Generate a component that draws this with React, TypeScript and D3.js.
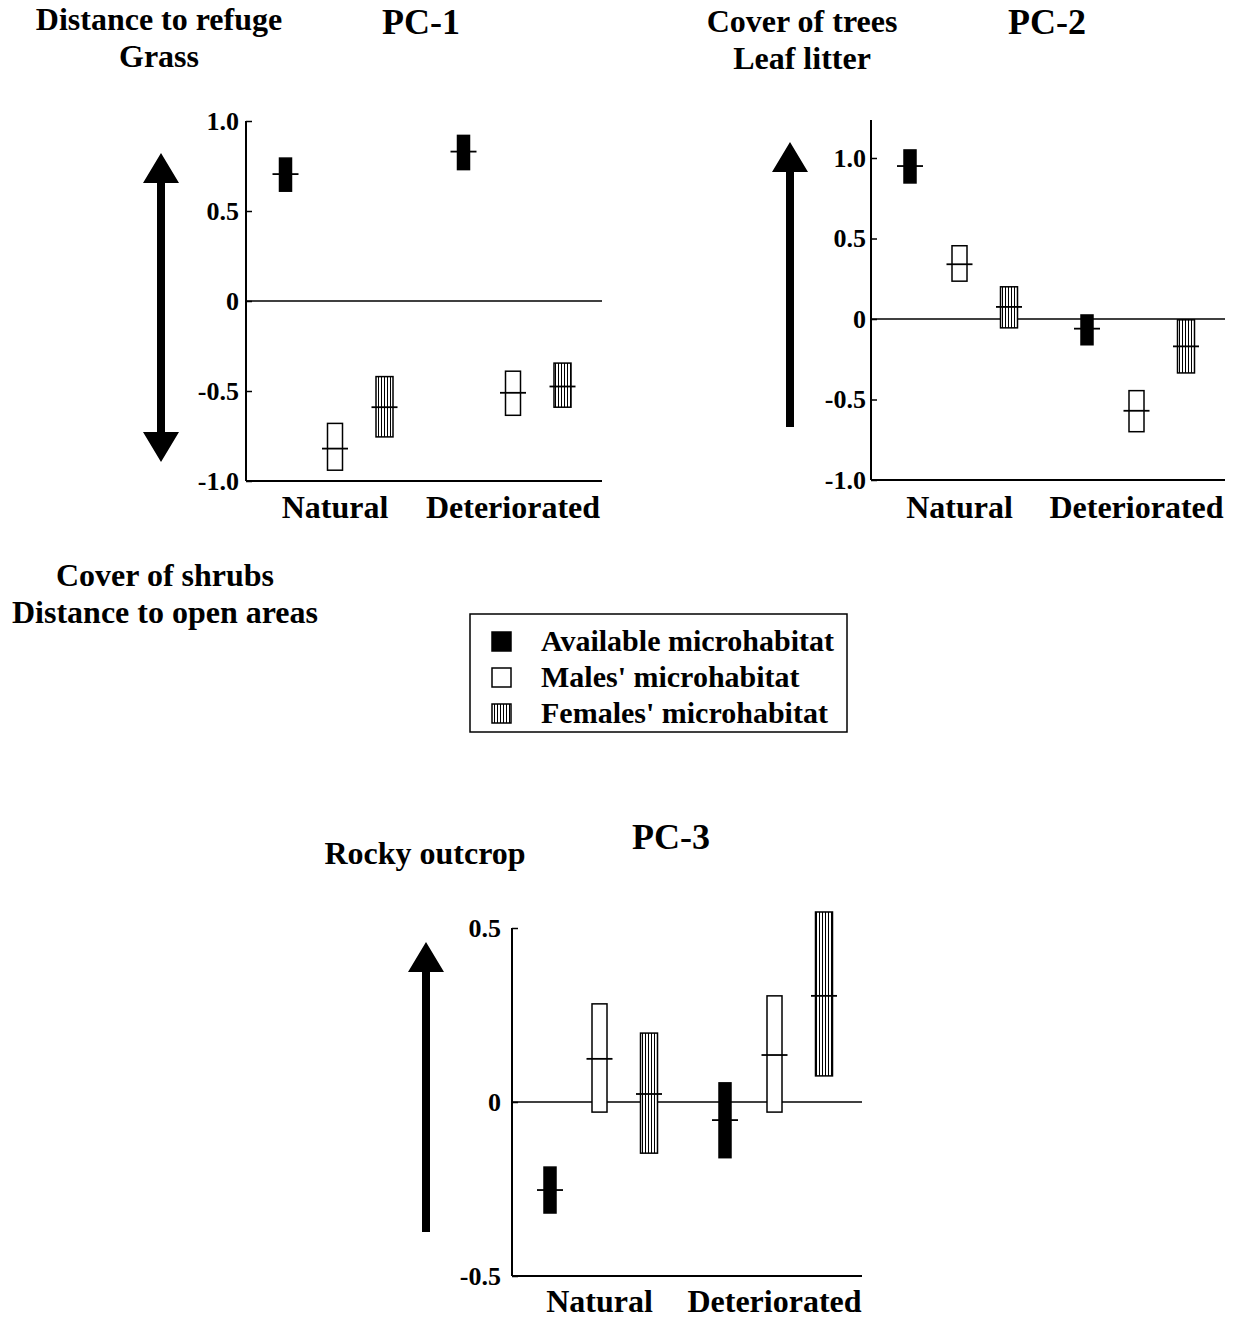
import React, { useEffect, useRef } from 'react';
import * as d3 from 'd3';

// categories
const habitats = ['Natural', 'Deteriorated'];
const groups = ['Available', 'Males', 'Females'];
const legendLabels = ["Available microhabitat", "Males' microhabitat", "Females' microhabitat"];

// values, order: Natural (A, M, F), Deteriorated (A, M, F)
const pc1Mean = [0.705, -0.82, -0.59, 0.83, -0.51, -0.475];
const pc1Low = [0.61, -0.94, -0.755, 0.73, -0.635, -0.59];
const pc1High = [0.794, -0.68, -0.42, 0.92, -0.39, -0.345];

const pc2Mean = [0.95, 0.34, 0.075, -0.06, -0.57, -0.17];
const pc2Low = [0.845, 0.235, -0.055, -0.16, -0.7, -0.335];
const pc2High = [1.05, 0.455, 0.2, 0.025, -0.445, -0.005];

const pc3Mean = [-0.253, 0.124, 0.023, -0.052, 0.135, 0.305];
const pc3Low = [-0.319, -0.029, -0.147, -0.16, -0.029, 0.075];
const pc3High = [-0.187, 0.282, 0.198, 0.055, 0.305, 0.546];

const pc1Ticks = [-1, -0.5, 0, 0.5, 1];
const pc2Ticks = [-1, -0.5, 0, 0.5, 1];
const pc3Ticks = [-0.5, 0, 0.5];

const FONT = '"Liberation Serif", "Times New Roman", serif';
const boxWidth: Record<string, number> = { Available: 12, Males: 15, Females: 17 };
const boxFill: Record<string, string> = { Available: '#000', Males: '#fff', Females: 'url(#vstripes)' };

// plain hyphen instead of d3's unicode minus
const fmtTick = (v: number) => (v === 0 ? '0' : v.toFixed(1));

interface PanelCfg {
  title: string;
  titleX: number;
  titleY: number;
  left: number;
  right: number;
  top: number;
  bottom: number;
  domain: [number, number];
  axisTop: number;
  ticks: number[];
  labelGap: number;
  catY: number;
  mean: number[];
  low: number[];
  high: number[];
  arrow: { x: number; y1: number; y2: number; both: boolean };
}

const panels: PanelCfg[] = [
  {
    title: 'PC-1', titleX: 421, titleY: 34,
    left: 246, right: 602, top: 121, bottom: 481, domain: [-1, 1], axisTop: 121,
    ticks: pc1Ticks, labelGap: 7, catY: 518,
    mean: pc1Mean, low: pc1Low, high: pc1High,
    arrow: { x: 161, y1: 153, y2: 462, both: true },
  },
  {
    title: 'PC-2', titleX: 1047, titleY: 34,
    left: 871, right: 1225, top: 158, bottom: 480, domain: [-1, 1], axisTop: 120,
    ticks: pc2Ticks, labelGap: 5, catY: 518,
    mean: pc2Mean, low: pc2Low, high: pc2High,
    arrow: { x: 790, y1: 142, y2: 427, both: false },
  },
  {
    title: 'PC-3', titleX: 671, titleY: 849,
    left: 512, right: 862, top: 928, bottom: 1276, domain: [-0.5, 0.5], axisTop: 928,
    ticks: pc3Ticks, labelGap: 11, catY: 1312,
    mean: pc3Mean, low: pc3Low, high: pc3High,
    arrow: { x: 426, y1: 942, y2: 1232, both: false },
  },
];

const sideLabels = [
  { lines: ['Distance to refuge', 'Grass'], x: 159, y: 30 },
  { lines: ['Cover of trees', 'Leaf litter'], x: 802, y: 32 },
  { lines: ['Cover of shrubs', 'Distance to open areas'], x: 165, y: 586 },
  { lines: ['Rocky outcrop'], x: 425, y: 864 },
];

const App: React.FC = () => {
  const svgRef = useRef<SVGSVGElement>(null);

  useEffect(() => {
    const svg = d3.select(svgRef.current);
    svg.selectAll('*').remove();

    const defs = svg.append('defs');
    const pat = defs.append('pattern')
      .attr('id', 'vstripes')
      .attr('patternUnits', 'userSpaceOnUse')
      .attr('width', 3)
      .attr('height', 10);
    pat.append('rect').attr('width', 3).attr('height', 10).attr('fill', '#fff');
    pat.append('rect').attr('x', 0).attr('width', 1).attr('height', 10).attr('fill', '#000');

    panels.forEach(p => {
      const g = svg.append('g');
      const y = d3.scaleLinear().domain(p.domain).range([p.bottom, p.top]);
      const x = d3.scaleBand().domain(habitats).range([p.left, p.right]);
      const inner = d3.scalePoint().domain(groups).range([-49.5, 49.5]);

      const rows = p.mean.map((m, i) => ({
        habitat: habitats[Math.floor(i / 3)],
        group: groups[i % 3],
        mean: m,
        low: p.low[i],
        high: p.high[i],
      }));
      const cx = (d: typeof rows[number]) => (x(d.habitat) ?? 0) + x.bandwidth() / 2 + (inner(d.group) ?? 0);

      // Y-axis
      const yAxis = g.append('g')
        .attr('transform', `translate(${p.left},0)`)
        .call(d3.axisLeft(y)
          .tickValues(p.ticks)
          .tickSizeInner(-6)
          .tickSizeOuter(0)
          .tickPadding(p.labelGap)
          .tickFormat(d => fmtTick(+d)));
      yAxis.select('.domain').remove();
      yAxis.selectAll('line').attr('stroke', '#000').attr('stroke-width', 1.5);
      yAxis.selectAll('text')
        .attr('font-family', FONT)
        .attr('font-size', 26)
        .attr('font-weight', 'bold')
        .attr('fill', '#000');
      g.append('line')
        .attr('x1', p.left).attr('x2', p.left)
        .attr('y1', p.axisTop).attr('y2', p.bottom)
        .attr('stroke', '#000').attr('stroke-width', 2);

      // X-axis baseline and zero line
      g.append('line')
        .attr('x1', p.left).attr('x2', p.right)
        .attr('y1', p.bottom).attr('y2', p.bottom)
        .attr('stroke', '#000').attr('stroke-width', 2);
      g.append('line')
        .attr('x1', p.left).attr('x2', p.right)
        .attr('y1', y(0)).attr('y2', y(0))
        .attr('stroke', '#000').attr('stroke-width', 1.5);

      g.selectAll('.cat')
        .data(habitats)
        .join('text')
        .attr('x', d => (x(d) ?? 0) + x.bandwidth() / 2)
        .attr('y', p.catY)
        .attr('text-anchor', 'middle')
        .attr('font-family', FONT)
        .attr('font-size', 32)
        .attr('font-weight', 'bold')
        .text(d => d);

      // Boxes
      g.append('g')
        .selectAll('rect')
        .data(rows)
        .join('rect')
        .attr('x', d => cx(d) - boxWidth[d.group] / 2)
        .attr('width', d => boxWidth[d.group])
        .attr('y', d => y(d.high))
        .attr('height', d => y(d.low) - y(d.high))
        .attr('fill', d => boxFill[d.group])
        .attr('stroke', '#000')
        .attr('stroke-width', 1.5);

      // Mean marks
      g.append('g')
        .selectAll('line')
        .data(rows)
        .join('line')
        .attr('x1', d => cx(d) - 13)
        .attr('x2', d => cx(d) + 13)
        .attr('y1', d => y(d.mean))
        .attr('y2', d => y(d.mean))
        .attr('stroke', '#000')
        .attr('stroke-width', 1.8);

      // Title
      svg.append('text')
        .attr('x', p.titleX)
        .attr('y', p.titleY)
        .attr('text-anchor', 'middle')
        .attr('font-family', FONT)
        .attr('font-size', 36)
        .attr('font-weight', 'bold')
        .text(p.title);

      // Arrow
      const a = p.arrow;
      const hw = 18, hh = 30, sw = 4;
      const pts: Array<[number, number]> = [
        [a.x, a.y1], [a.x + hw, a.y1 + hh], [a.x + sw, a.y1 + hh],
      ];
      if (a.both) {
        pts.push([a.x + sw, a.y2 - hh], [a.x + hw, a.y2 - hh], [a.x, a.y2],
          [a.x - hw, a.y2 - hh], [a.x - sw, a.y2 - hh]);
      } else {
        pts.push([a.x + sw, a.y2], [a.x - sw, a.y2]);
      }
      pts.push([a.x - sw, a.y1 + hh], [a.x - hw, a.y1 + hh]);
      svg.append('path')
        .attr('d', d3.line()(pts) + 'Z')
        .attr('fill', '#000');
    });

    // Side labels
    sideLabels.forEach(s => {
      s.lines.forEach((t, i) => {
        svg.append('text')
          .attr('x', s.x)
          .attr('y', s.y + i * 37)
          .attr('text-anchor', 'middle')
          .attr('font-family', FONT)
          .attr('font-size', 32)
          .attr('font-weight', 'bold')
          .text(t);
      });
    });

    // Legend
    const lg = svg.append('g').attr('transform', 'translate(470,614)');
    lg.append('rect')
      .attr('width', 377).attr('height', 118)
      .attr('fill', '#fff').attr('stroke', '#000').attr('stroke-width', 1.5);
    const item = lg.selectAll('.item')
      .data(groups)
      .join('g')
      .attr('transform', (_, i) => `translate(0,${27 + i * 36})`);
    item.append('rect')
      .attr('x', 22).attr('y', -9)
      .attr('width', 19).attr('height', 19)
      .attr('fill', d => boxFill[d])
      .attr('stroke', '#000').attr('stroke-width', 1.5);
    item.append('text')
      .attr('x', 71).attr('y', 10)
      .attr('font-family', FONT)
      .attr('font-size', 30)
      .attr('font-weight', 'bold')
      .text((_, i) => legendLabels[i]);
  }, []);

  return (
    <div style={{ position: 'absolute', left: 0, top: 0 }}>
      <svg ref={svgRef} width={1234} height={1318} style={{ display: 'block', background: '#fff' }} />
    </div>
  );
};

export default App;
